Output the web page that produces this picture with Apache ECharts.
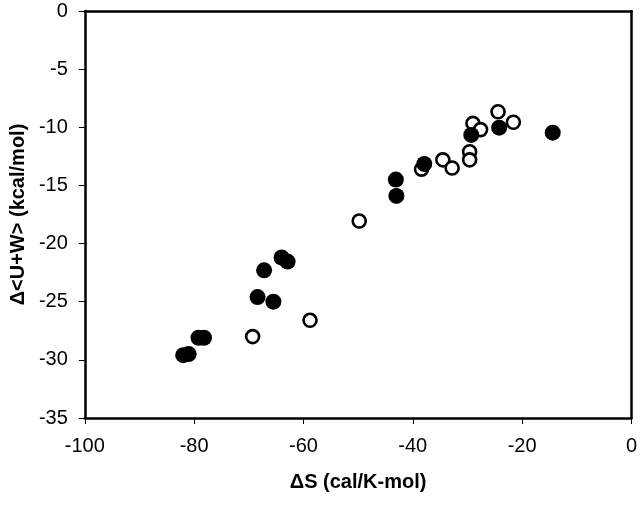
<!DOCTYPE html>
<html>
<head>
<meta charset="utf-8">
<script src="https://cdn.jsdelivr.net/npm/echarts@6/dist/echarts.min.js"></script>
<style>
  html, body { margin: 0; padding: 0; background: #fff; }
  #chart { width: 640px; height: 505px; }
</style>
</head>
<body>
<div id="chart"></div>
<script>
// filled circles
const filledS = [-82.0, -81.0, -79.2, -78.2, -68.4, -67.2, -65.5, -64.0, -62.9, -43.1, -43.0, -37.9, -29.3, -24.2, -14.4];
const filledUW = [-29.6, -29.5, -28.1, -28.1, -24.6, -22.3, -25.0, -21.2, -21.55, -14.5, -15.9, -13.15, -10.66, -10.03, -10.46];

// open circles
const openS = [-69.3, -58.8, -49.8, -38.4, -34.5, -32.8, -29.6, -29.6, -29.0, -27.6, -24.4, -21.6];
const openUW = [-28.0, -26.6, -18.06, -13.6, -12.8, -13.5, -12.1, -12.8, -9.66, -10.2, -8.66, -9.57];

const xTicks = [-100, -80, -60, -40, -20, 0];
const yTicks = [0, -5, -10, -15, -20, -25, -30, -35];

const chartDom = document.getElementById('chart');
const myChart = echarts.init(chartDom);

const font = 'Liberation Sans, Arial, sans-serif';
const frame = { onZero: false, lineStyle: { color: '#000', width: 2.5 } };

let option = {
  backgroundColor: '#fff',
  animation: false,
  grid: {
    left: 82,
    right: 8,
    top: 11,
    bottom: 87
  },
  xAxis: [
    {
      type: 'value',
      position: 'bottom',
      min: xTicks[0],
      max: xTicks[xTicks.length - 1],
      interval: 20,
      name: 'ΔS (cal/K-mol)',
      nameLocation: 'middle',
      nameGap: 54,
      nameTextStyle: { color: '#000', fontSize: 20, fontWeight: 'bold', fontFamily: font },
      axisLine: frame,
      axisTick: { inside: false, length: 6, lineStyle: { color: '#000', width: 1 } },
      axisLabel: { color: '#000', fontSize: 20, fontFamily: font, margin: 18 },
      splitLine: { show: false }
    },
    {
      type: 'value',
      position: 'top',
      min: xTicks[0],
      max: xTicks[xTicks.length - 1],
      interval: 20,
      axisLine: frame,
      axisTick: { show: false },
      axisLabel: { show: false },
      splitLine: { show: false }
    }
  ],
  yAxis: [
    {
      type: 'value',
      position: 'left',
      min: yTicks[yTicks.length - 1],
      max: yTicks[0],
      interval: 5,
      name: 'Δ<U+W> (kcal/mol)',
      nameLocation: 'middle',
      nameGap: 56,
      nameTextStyle: { color: '#000', fontSize: 20, fontWeight: 'bold', fontFamily: font },
      axisLine: frame,
      axisTick: { inside: false, length: 6, lineStyle: { color: '#000', width: 1 } },
      axisLabel: { color: '#000', fontSize: 20, fontFamily: font, margin: 17 },
      splitLine: { show: false }
    },
    {
      type: 'value',
      position: 'right',
      min: yTicks[yTicks.length - 1],
      max: yTicks[0],
      interval: 5,
      axisLine: frame,
      axisTick: { show: false },
      axisLabel: { show: false },
      splitLine: { show: false }
    }
  ],
  series: [
    {
      name: 'open',
      type: 'scatter',
      symbol: 'circle',
      symbolSize: 13,
      data: openS.map((s, i) => [s, openUW[i]]),
      itemStyle: { color: '#fff', borderColor: '#000', borderWidth: 2.6, opacity: 1 }
    },
    {
      name: 'filled',
      type: 'scatter',
      symbol: 'circle',
      symbolSize: 16,
      data: filledS.map((s, i) => [s, filledUW[i]]),
      itemStyle: { color: '#000', opacity: 1 }
    }
  ]
};
option && myChart.setOption(option);
</script>
</body>
</html>
